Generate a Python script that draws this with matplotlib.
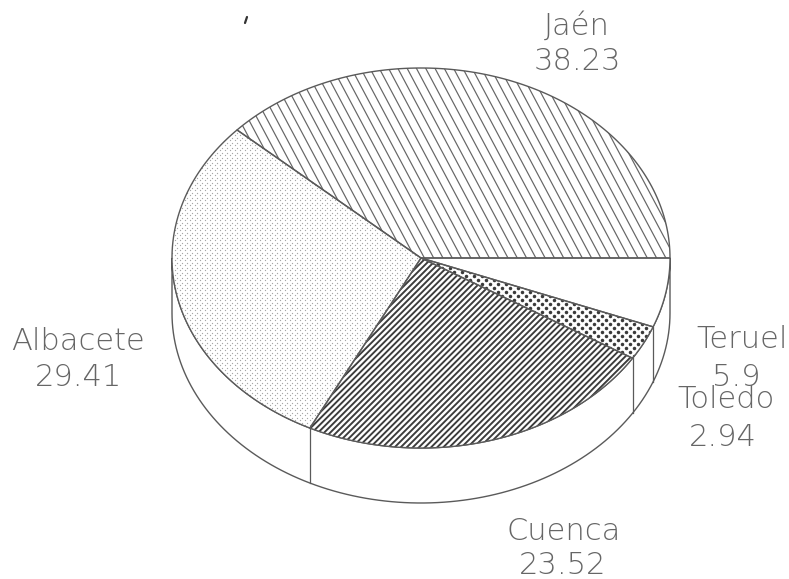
import numpy as np
import matplotlib
matplotlib.use('Agg')
import matplotlib.pyplot as plt
from matplotlib.patches import Polygon
from matplotlib.collections import LineCollection

names = ['Jaén', 'Albacete', 'Cuenca', 'Toledo', 'Teruel']
values = [38.23, 29.41, 23.52, 2.94, 5.9]
value_labels = ['38.23', '29.41', '23.52', '2.94', '5.9']

# pie geometry, in image pixels
cx, cy = 421, 258
rx, ry = 249, 190
depth = 55
ink = '#5a5a5a'

name_pos = [(577, 26), (78, 341), (564, 531), (726, 399), (742, 340)]
value_pos = [(577, 61), (79, 378), (563, 566), (723, 437), (736, 378)]

# hatch: (kind, angle, spacing, colour, size)
fills = [('lines', 118, 8.2, '#666666', 1.2),
         ('dots', 0, 5.0, '#a6a6a6', 1.3),
         ('lines', 45, 4.3, '#3c3c3c', 1.9),
         ('dots', 0, 8.0, '#3a3a3a', 3.5),
         None]


def rim(a0, a1, dy=0, n=120):
    t = np.radians(np.linspace(a0, a1, n))
    return np.c_[cx + rx*np.cos(t), cy - ry*np.sin(t) + dy]


def add_lines(ax, patch, angle, spacing, color, lw):
    a = np.radians(angle)
    d = np.array([np.cos(a), -np.sin(a)])
    nrm = np.array([d[1], -d[0]])
    segs = []
    for off in np.arange(-700, 700, spacing):
        p = np.array([cx, cy]) + nrm*off
        segs.append([p - d*700, p + d*700])
    lc = LineCollection(segs, colors=color, linewidths=lw*0.72, zorder=2)
    ax.add_collection(lc)
    lc.set_clip_path(patch)


def add_dots(ax, patch, spacing, color, size):
    xs, ys = [], []
    for i, y in enumerate(np.arange(40, 520, spacing/2)):
        x = np.arange(150 + (i % 2)*spacing/2, 700, spacing)
        xs.extend(x)
        ys.extend([y]*len(x))
    sc = ax.scatter(xs, ys, s=(size*0.72)**2, c=color, linewidths=0, zorder=2)
    sc.set_clip_path(patch)


fig = plt.figure(figsize=[7.89, 5.79], dpi=100)
ax = fig.add_axes([0, 0, 1, 1])
ax.set_xlim(0, 789)
ax.set_ylim(579, 0)
ax.axis('off')

# side wall
wall = np.vstack([rim(180, 360), rim(360, 180, depth)])
ax.add_patch(Polygon(wall, closed=True, fc='white', ec=ink, lw=1.0, zorder=1))

edges = np.r_[0, np.cumsum(values)]/np.sum(values)*360
for i in range(len(values)):
    a0, a1 = edges[i], edges[i+1]
    pts = np.vstack([[cx, cy], rim(a0, a1)])
    wedge = Polygon(pts, closed=True, fc='white', ec='none', zorder=1.5)
    ax.add_patch(wedge)
    if fills[i] is not None:
        kind, angle, spacing, color, size = fills[i]
        if kind == 'lines':
            add_lines(ax, wedge, angle, spacing, color, size)
        else:
            add_dots(ax, wedge, spacing, color, size)
    ax.add_patch(Polygon(pts, closed=True, fc='none', ec=ink, lw=1.0, zorder=3))
    # wall seams on the front half
    if 180 < a1 < 360:
        p = rim(a1, a1, n=1)[0]
        ax.plot([p[0], p[0]], [p[1], p[1] + depth], color=ink, lw=0.9, zorder=3)

for i in range(len(names)):
    ax.text(name_pos[i][0], name_pos[i][1], names[i], fontsize=22, color='#666666',
            ha='center', va='center', family='DejaVu Sans', fontweight='light')
    ax.text(value_pos[i][0], value_pos[i][1], value_labels[i], fontsize=22, color='#666666',
            ha='center', va='center', family='DejaVu Sans', fontweight='light')

# speck on the scan
ax.plot([245, 247], [23, 17], color='#333333', lw=1.6, solid_capstyle='round')

fig.savefig('out.png', dpi=100)
